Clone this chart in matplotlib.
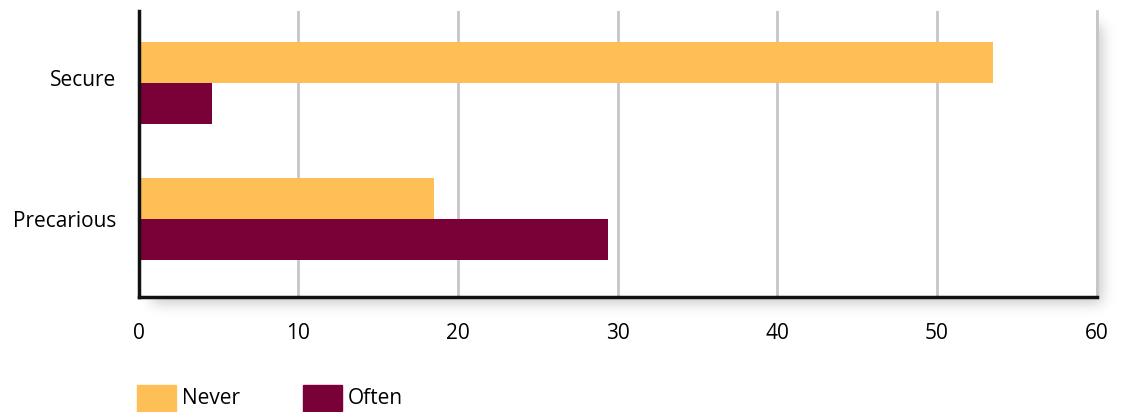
import numpy as np
import matplotlib
matplotlib.use("Agg")
import matplotlib.pyplot as plt
from matplotlib.patches import Patch
from matplotlib.transforms import ScaledTranslation

categories = ["Secure", "Precarious"]
series_names = ["Never", "Often"]
never_vals = [53.5, 18.5]
often_vals = [4.6, 29.4]
x_ticks = [0, 10, 20, 30, 40, 50, 60]
colors = ["#FFBF57", "#7A0038"]

plt.rcParams['font.family'] = ['Open Sans', 'DejaVu Sans']

W, H = 1121, 412
fig = plt.figure(figsize=(W / 100, H / 100), dpi=100)

# plot area in pixels
L, R, T, B = 138.5, 1096.7, 11, 297

# drop shadow behind the plot area
bg = fig.add_axes([0, 0, 1, 1], zorder=-5)
bg.set_axis_off()
mask = np.zeros((H, W))
off = 6
mask[int(T + 14):int(B + off), int(L + 14):int(R + off)] = 1.0
sig = 7.0
k = np.arange(-25, 26)
kern = np.exp(-k**2 / (2 * sig**2)); kern /= kern.sum()
mask = np.apply_along_axis(lambda r: np.convolve(r, kern, mode='same'), 1, mask)
mask = np.apply_along_axis(lambda c: np.convolve(c, kern, mode='same'), 0, mask)
img = np.zeros((H, W, 4))
img[..., 3] = mask * 0.22
bg.imshow(img, extent=[0, W, H, 0], aspect='auto', interpolation='bilinear')
bg.set_xlim(0, W); bg.set_ylim(H, 0)

ax = fig.add_axes([L / W, 1 - B / H, (R - L) / W, (B - T) / H])
ax.set_facecolor("white")

y = np.arange(len(categories))
h = 0.3
ax.barh(y - h / 2, never_vals, height=h, color=colors[0], zorder=3)
ax.barh(y + h / 2, often_vals, height=h, color=colors[1], zorder=3)

ax.set_xlim(0, 60)
ax.set_ylim(1.574, -0.529)
ax.set_xticks(x_ticks)
ax.set_xticklabels([str(t) for t in x_ticks])
ax.set_yticks(y)
ax.set_yticklabels(categories)
ax.tick_params(axis='x', length=0, pad=19, labelsize=15)
ax.tick_params(axis='y', length=0, pad=16, labelsize=15)
ax.grid(axis='x', color="#C6C6CA", linewidth=2, zorder=0)
ax.set_axisbelow(True)
ax.spines["top"].set_visible(False)
ax.spines["right"].set_color("#C6C6CA")
ax.spines["right"].set_linewidth(2)
ax.spines["left"].set_linewidth(2.5)
ax.spines["bottom"].set_linewidth(2.5)
ax.spines["left"].set_color("#111111")
ax.spines["bottom"].set_color("#111111")
ax.spines["left"].set_zorder(5)
ax.spines["bottom"].set_zorder(5)

# the first category label sits slightly above its bar group in the reference
lbl = ax.get_yticklabels()[0]
lbl.set_transform(lbl.get_transform() + ScaledTranslation(0, 5 / 100, fig.dpi_scale_trans))

handles = [Patch(color=colors[0], label=series_names[0]),
           Patch(color=colors[1], label=series_names[1])]
fig.legend(handles=handles, loc="lower left", bbox_to_anchor=(137 / W, 1.5 / H),
           ncol=2, frameon=False, fontsize=15, handlelength=1.875, handleheight=1.54,
           handletextpad=0.29, columnspacing=3.0, borderaxespad=0, borderpad=0)

fig.savefig("out.png", dpi=100)
